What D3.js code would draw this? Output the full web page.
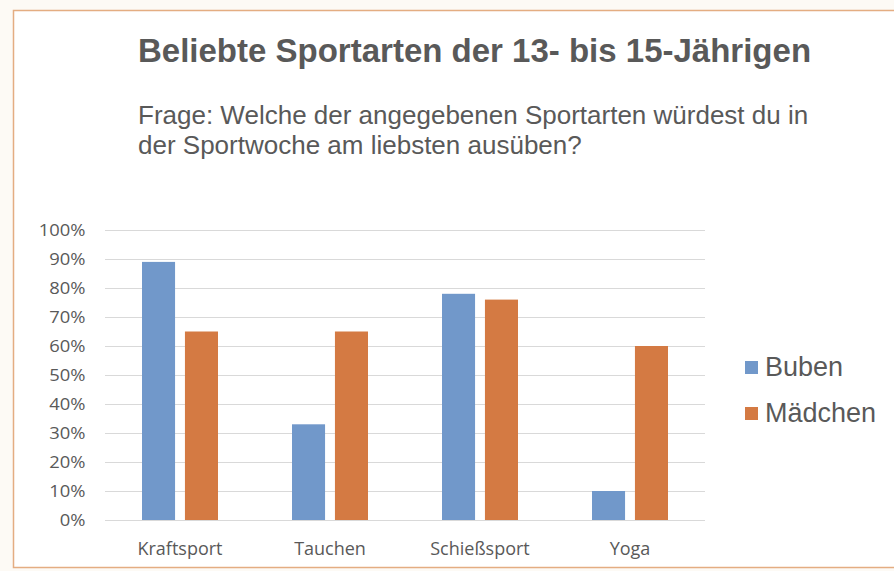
<!DOCTYPE html>
<html>
<head>
<meta charset="utf-8">
<script src="https://cdn.jsdelivr.net/npm/d3@7"></script>
<style>
  html, body { margin: 0; padding: 0; background: #fdfaf5; }
  svg { display: block; }
</style>
</head>
<body>
<div id="chart"></div>
<script>
const categories = ["Kraftsport", "Tauchen", "Schießsport", "Yoga"];
const seriesNames = ["Buben", "Mädchen"];
const buben = [89, 33, 78, 10];
const maedchen = [65, 65, 76, 60];
const yTicks = [0, 10, 20, 30, 40, 50, 60, 70, 80, 90, 100];

const colors = { "Buben": "#7198ca", "Mädchen": "#d47a43" };
const textColor = "#595959";
const arial = "'Liberation Sans', Arial, sans-serif";
const calibri = "'Open Sans', sans-serif";

const width = 894, height = 571;
const plot = { left: 105, right: 705, top: 230, bottom: 520 };

const svg = d3.select("#chart").append("svg")
  .attr("width", width)
  .attr("height", height);

// frame
svg.append("rect")
  .attr("x", 13.5).attr("y", 10.5)
  .attr("width", width + 20).attr("height", height - 14)
  .attr("fill", "#fff")
  .attr("stroke", "#e4ad82")
  .attr("stroke-width", 1.5);

// title + question
svg.append("text")
  .attr("x", 138).attr("y", 62)
  .style("font-family", arial)
  .attr("font-weight", "bold")
  .attr("font-size", "33px")
  .attr("fill", textColor)
  .text("Beliebte Sportarten der 13- bis 15-Jährigen");

const question = ["Frage: Welche der angegebenen Sportarten würdest du in", "der Sportwoche am liebsten ausüben?"];
svg.append("g").selectAll("text")
  .data(question)
  .join("text")
  .attr("x", 138)
  .attr("y", (d, i) => 124 + i * 30)
  .style("font-family", arial)
  .attr("font-size", "26px")
  .attr("fill", textColor)
  .text((d) => d);

const x = d3.scaleBand()
  .domain(categories)
  .range([plot.left, plot.right]);

const x1 = d3.scaleBand()
  .domain(seriesNames)
  .range([x.bandwidth() / 2 - 38, x.bandwidth() / 2 + 38])
  .paddingInner(0.23);

const y = d3.scaleLinear()
  .domain([0, 100])
  .range([plot.bottom, plot.top]);

// gridlines
svg.append("g")
  .selectAll("line")
  .data(yTicks)
  .join("line")
  .attr("x1", plot.left)
  .attr("x2", plot.right)
  .attr("y1", (d) => Math.round(y(d)) + 0.5)
  .attr("y2", (d) => Math.round(y(d)) + 0.5)
  .attr("stroke", "#d9d9d9")
  .attr("stroke-width", 1);

// y axis labels (slightly wide, like the source)
svg.append("g")
  .attr("transform", `translate(${plot.left - 16},0)`)
  .call(d3.axisLeft(y).tickValues(yTicks).tickFormat((d) => d + "%").tickSize(0))
  .call((g) => g.select(".domain").remove())
  .call((g) => g.selectAll("text")
    .attr("fill", textColor)
    .attr("transform", "scale(1.15,1)")
    .style("font-family", calibri)
    .attr("font-size", "16px"));

// bars
const data = categories.map((c, i) => ({ cat: c, values: [
  { key: "Buben", value: buben[i] },
  { key: "Mädchen", value: maedchen[i] },
] }));

svg.append("g")
  .selectAll("g")
  .data(data)
  .join("g")
  .attr("transform", (d) => `translate(${x(d.cat)},0)`)
  .selectAll("rect")
  .data((d) => d.values)
  .join("rect")
  .attr("x", (d) => x1(d.key))
  .attr("width", x1.bandwidth())
  .attr("y", (d) => y(d.value))
  .attr("height", (d) => y(0) - y(d.value))
  .attr("fill", (d) => colors[d.key]);

// x axis labels
svg.append("g")
  .attr("transform", `translate(0,${plot.bottom + 19})`)
  .call(d3.axisBottom(x).tickSize(0))
  .call((g) => g.select(".domain").remove())
  .call((g) => g.selectAll("text")
    .attr("fill", textColor)
    .style("font-family", calibri)
    .attr("font-size", "18px"));

// legend
const legend = svg.append("g")
  .selectAll("g")
  .data(seriesNames)
  .join("g")
  .attr("transform", (d, i) => `translate(745,${361 + i * 46})`);

legend.append("rect")
  .attr("width", 13).attr("height", 13)
  .attr("fill", (d) => colors[d]);

legend.append("text")
  .attr("x", 20).attr("y", 15)
  .style("font-family", arial)
  .attr("font-size", "27px")
  .attr("fill", textColor)
  .text((d) => d);
</script>
</body>
</html>
